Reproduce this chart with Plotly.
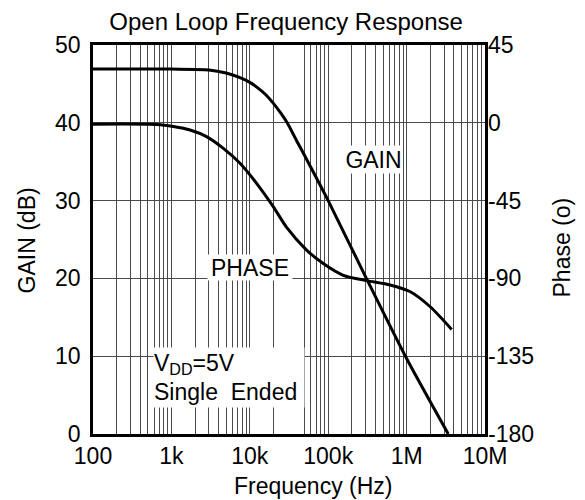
import plotly.graph_objects as go

# ---- data ----
gain_freq = [100, 1000, 3000, 5000, 7500, 10000, 13000, 16000, 20000, 25000, 30000,
             40000, 50000, 70000, 100000, 300000, 1000000, 3400000]
gain_db = [46.9, 46.9, 46.8, 46.4, 45.8, 45.2, 44.4, 43.6, 42.5, 41.2, 40.0,
           37.6, 35.8, 33.0, 30.0, 20.2, 9.7, 0.0]

phase_freq = [100, 650, 1060, 1730, 2800, 4600, 7500, 12200, 20000, 29500,
              53000, 86500, 156000, 309000, 614000, 1100000, 2000000, 3760000]
phase_deg = [-0.8, -1.0, -2.2, -4.2, -8.0, -14.8, -23.4, -35.0, -48.6, -60.5,
             -73.6, -81.4, -88.2, -91.3, -93.8, -97.6, -106.4, -119.5]

x_tickvals = [100, 1000, 10000, 100000, 1000000, 10000000]
x_ticktext = ["100", "1k", "10k", "100k", "1M", "10M"]
gain_ticks = [0, 10, 20, 30, 40, 50]
phase_ticks = [-180, -135, -90, -45, 0, 45]
phase_ticktext = ["-180", "-135", "-90", "-45", "0", "45"]

# minor grid values (the reference has no lines at 30k and 40k)
minor_vals = [m * d for d in [100, 1000, 10000, 100000, 1000000] for m in range(2, 10)]
minor_vals = [v for v in minor_vals if v not in (30000, 40000)]

FONT = "Liberation Sans, Arial, Helvetica, sans-serif"
GRID = "#4a4a4a"

fig = go.Figure()
fig.add_trace(go.Scatter(x=gain_freq, y=gain_db, mode="lines",
                         line=dict(color="black", width=3, shape="spline", smoothing=0.7),
                         yaxis="y", showlegend=False))
fig.add_trace(go.Scatter(x=phase_freq, y=phase_deg, mode="lines",
                         line=dict(color="black", width=3, shape="spline", smoothing=0.7),
                         yaxis="y2", showlegend=False))

# page body adds an 8px offset, so the figure is sized to keep the plot area in place
fig.update_layout(
    width=577, height=492,
    margin=dict(l=85, r=100, t=37, b=66),
    paper_bgcolor="white", plot_bgcolor="white",
    font=dict(family=FONT, size=23, color="black"),
    showlegend=False,
    title=dict(text="Open Loop Frequency Response", x=0.482, xref="container",
               y=0.9715, yref="container", xanchor="center", yanchor="middle",
               font=dict(size=24)),
    xaxis=dict(type="log", range=[2, 7], tickvals=x_tickvals, ticktext=x_ticktext,
               showgrid=True, gridcolor=GRID, gridwidth=1,
               minor=dict(tickvals=minor_vals, showgrid=True, gridcolor=GRID,
                          gridwidth=1, ticks=""),
               showline=True, linecolor="black", linewidth=2.5, mirror=True,
               ticks="", zeroline=False, automargin=False,
               tickfont=dict(size=23)),
    yaxis=dict(range=[0, 50], tickvals=gain_ticks, showgrid=True, gridcolor=GRID,
               gridwidth=1, showline=True, linecolor="black", linewidth=2.5,
               mirror=True, ticks="", zeroline=False, automargin=False,
               ticklabelstandoff=5, tickfont=dict(size=23)),
    yaxis2=dict(range=[-180, 45], tickvals=phase_ticks, ticktext=phase_ticktext,
                overlaying="y", side="right", showgrid=False, zeroline=False,
                showline=False, ticks="", automargin=False,
                ticklabelstandoff=2, tickfont=dict(size=23)),
)

annos = [
    dict(text="GAIN", x=0.7156, y=0.7044, xanchor="center", yanchor="middle",
         width=57, height=27),
    dict(text="PHASE", x=0.4005, y=0.428, xanchor="center", yanchor="middle",
         width=84, height=25),
    dict(text="V<sub>DD</sub>=5V<br>Single  Ended", x=0.153, y=0.224,
         xanchor="left", yanchor="top", width=150, height=59, align="left",
         valign="middle"),
    dict(text="Frequency (Hz)", x=0.561, y=-0.134, xanchor="center",
         yanchor="middle", bgcolor="rgba(0,0,0,0)"),
    dict(text="GAIN (dB)", x=-0.168, y=0.498, textangle=-90, xanchor="center",
         yanchor="middle", bgcolor="rgba(0,0,0,0)"),
    dict(text="Phase (o)", x=1.197, y=0.48, textangle=-90, xanchor="center",
         yanchor="middle", bgcolor="rgba(0,0,0,0)"),
]
for a in annos:
    base = dict(xref="paper", yref="paper", showarrow=False,
                font=dict(family=FONT, size=23, color="black"),
                bgcolor="white", borderpad=0)
    base.update(a)
    fig.add_annotation(**base)

fig.write_html("out.html")
